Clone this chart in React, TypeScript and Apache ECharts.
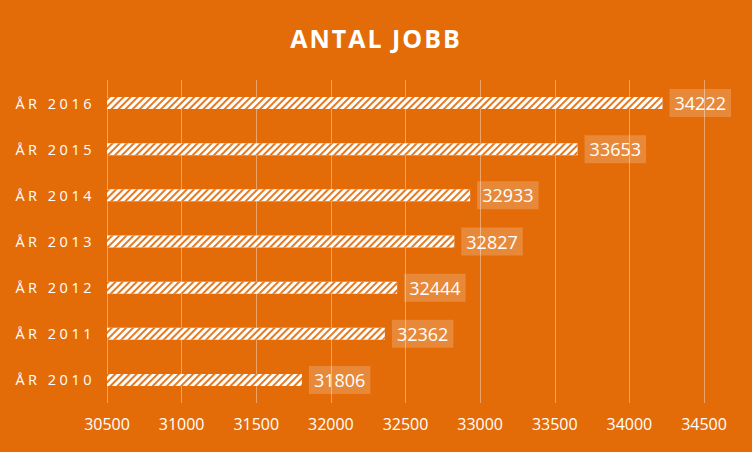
import React, { useEffect, useRef } from "react";
import * as echarts from "echarts";

const categories = ["ÅR 2010", "ÅR 2011", "ÅR 2012", "ÅR 2013", "ÅR 2014", "ÅR 2015", "ÅR 2016"];
const values = [31806, 32362, 32444, 32827, 32933, 33653, 34222];
const axisMin = 30500;
const axisMax = 34500;
const axisStep = 500;
const title = "ANTAL JOBB";

const ORANGE = "#E36C09";

export default function App() {
  const ref = useRef<HTMLDivElement>(null);
  useEffect(() => {
    if (!ref.current) return;
    const chart = echarts.init(ref.current, null, { renderer: "svg" });
    chart.setOption({
      animation: false,
      backgroundColor: ORANGE,
      title: {
        text: title,
        left: "center",
        top: 20,
        textStyle: {
          color: "#ffffff",
          fontFamily: "Open Sans",
          fontWeight: "bold",
          fontSize: 25,
        },
      },
      grid: { left: 107, right: 48, top: 80, bottom: 49, containLabel: false },
      xAxis: {
        type: "value",
        min: axisMin,
        max: axisMax,
        interval: axisStep,
        axisLine: { show: false },
        axisTick: { show: false },
        axisLabel: {
          color: "#ffffff",
          fontFamily: "Open Sans",
          fontSize: 16,
          margin: 13,
          formatter: (v: number) => String(v),
        },
        splitLine: { show: true, lineStyle: { color: "rgba(255,255,255,0.38)", width: 1 } },
      },
      yAxis: {
        type: "category",
        data: categories,
        axisLine: { show: false },
        axisTick: { show: false },
        axisLabel: {
          color: "#ffffff",
          fontFamily: "Open Sans",
          fontSize: 14.5,
          margin: 12,
        },
      },
      series: [
        {
          type: "bar",
          data: values,
          barWidth: 12,
          itemStyle: {
            color: "#ffffff",
            decal: {
              symbol: "rect",
              symbolSize: 1,
              color: "rgba(227,108,9,0.9)",
              dashArrayX: [1, 0],
              dashArrayY: [1.6, 3],
              rotation: -Math.PI / 4,
            },
          },
          label: {
            show: true,
            position: "right",
            distance: 7,
            color: "#ffffff",
            fontFamily: "Open Sans",
            fontSize: 18,
            backgroundColor: "rgba(255,255,255,0.2)",
            padding: [5, 5, 5, 5],
          },
        },
      ],
    });
    const applySpacing = () => {
      const texts = ref.current?.querySelectorAll("text") || [];
      texts.forEach((t) => {
        const s = t.textContent || "";
        if (s.startsWith("ÅR")) t.setAttribute("letter-spacing", "3.5");
        if (s === title) t.setAttribute("letter-spacing", "2");
      });
    };
    applySpacing();
    chart.on("finished", applySpacing);
    return () => chart.dispose();
  }, []);
  return <div ref={ref} style={{ width: 752, height: 452, position: "absolute", left: 0, top: 0 }} />;
}
